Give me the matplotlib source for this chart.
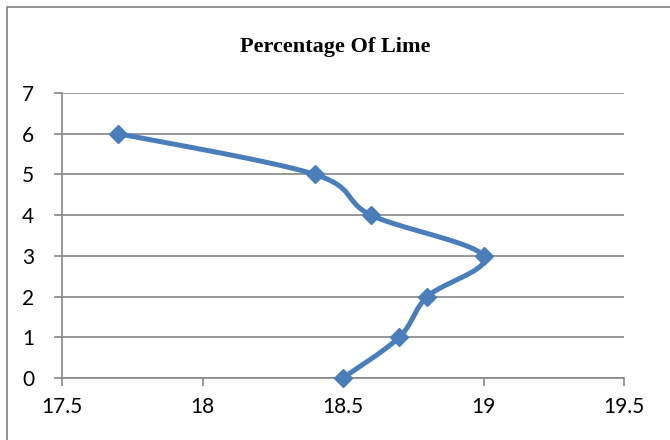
import numpy as np
import matplotlib.pyplot as plt
from matplotlib.patches import Rectangle

# data
lime_pct = [18.5, 18.7, 18.8, 19.0, 18.6, 18.4, 17.7]
depth = [0, 1, 2, 3, 4, 5, 6]
x_ticks = [17.5, 18, 18.5, 19, 19.5]
x_labels = ["17.5", "18", "18.5", "19", "19.5"]
y_ticks = [0, 1, 2, 3, 4, 5, 6, 7]

blue = "#4a7ebb"
grid_gray = "#868686"

fig = plt.figure(figsize=(6.7, 4.4), dpi=100)
ax = fig.add_axes([62 / 670, 1 - 378 / 440, (624 - 62) / 670, (378 - 93) / 440])
ax.set_xlim(17.5, 19.5)
ax.set_ylim(0, 7)

# outer chart frame (cut off on the right and bottom, as in the screenshot)
fig.patches.append(Rectangle((7 / 670, -0.1), 1.1, 1 - 7 / 440 + 0.1,
                             transform=fig.transFigure, fill=False,
                             edgecolor="#808080", linewidth=1.2))

# Excel-style smoothed line: cubic Bezier with control points at 1/6 of neighbour spans
fig.canvas.draw()
pts = ax.transData.transform(np.column_stack([lime_pct, depth]))
n = len(pts)
curve = []
for i in range(n - 1):
    p0 = pts[max(i - 1, 0)]
    p1 = pts[i]
    p2 = pts[i + 1]
    p3 = pts[min(i + 2, n - 1)]
    c1 = p1 + (p2 - p0) / 6
    c2 = p2 - (p3 - p1) / 6
    t = np.linspace(0, 1, 40)[:, None]
    seg = ((1 - t) ** 3) * p1 + 3 * ((1 - t) ** 2) * t * c1 + 3 * (1 - t) * t ** 2 * c2 + t ** 3 * p2
    curve.append(seg)
curve = ax.transData.inverted().transform(np.vstack(curve))
ax.plot(curve[:, 0], curve[:, 1], color=blue, linewidth=3.6, solid_capstyle="round", zorder=3)
ax.plot(lime_pct, depth, linestyle="none", marker="D", markersize=9.5,
        color=blue, zorder=4, clip_on=False)

ax.set_xticks(x_ticks)
ax.set_xticklabels(x_labels)
ax.set_yticks(y_ticks)
ax.yaxis.grid(True, color=grid_gray, linewidth=1.2)
ax.set_axisbelow(True)
for side in ["top", "right"]:
    ax.spines[side].set_visible(False)
ax.spines["left"].set_color(grid_gray)
ax.spines["bottom"].set_color(grid_gray)
ax.spines["left"].set_linewidth(1.2)
ax.spines["bottom"].set_linewidth(1.2)
ax.tick_params(axis="both", direction="out", length=6, color=grid_gray, width=1.2,
               labelsize=15, labelcolor="black")
ax.tick_params(axis="x", pad=8)
ax.tick_params(axis="y", pad=14)
for lbl in ax.get_xticklabels() + ax.get_yticklabels():
    lbl.set_family("Lato")

fig.text(0.5, 1 - 47 / 440, "Percentage Of Lime", ha="center", va="center",
         fontsize=16, fontweight="bold", family="Liberation Serif")

fig.savefig("out.png", dpi=100)
